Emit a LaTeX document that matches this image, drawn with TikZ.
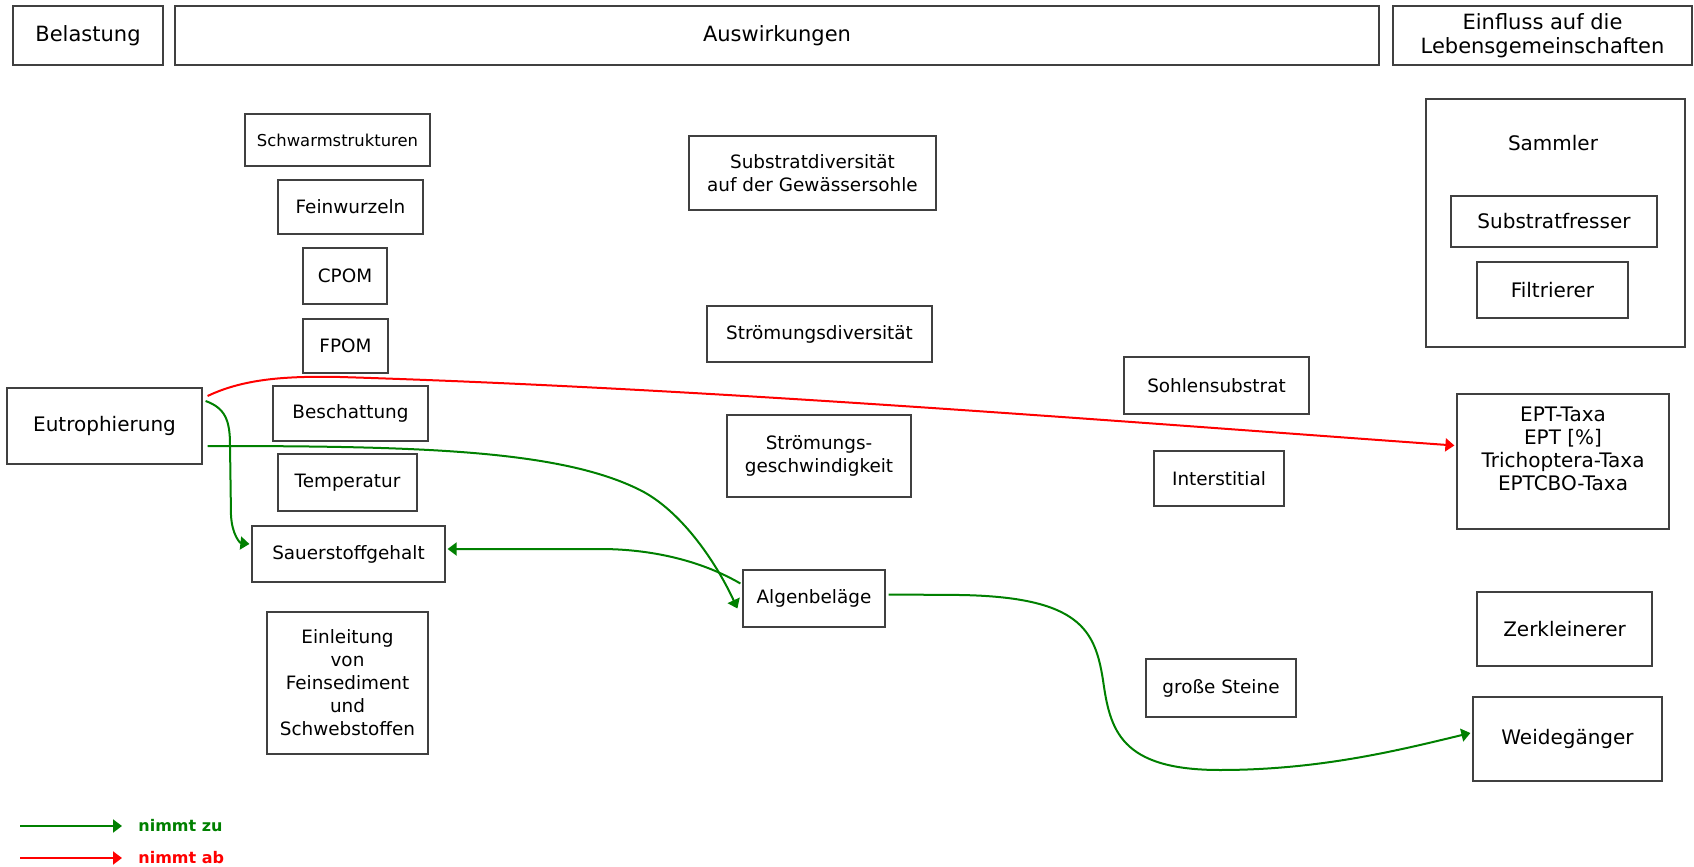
\documentclass[tikz,border=0pt]{standalone}
\usepackage{fontspec}
\setmainfont{DejaVu Sans}
\usetikzlibrary{arrows.meta}
\definecolor{zugruen}{RGB}{0,128,0}
\definecolor{abrot}{RGB}{255,0,0}
\begin{document}
\begin{tikzpicture}[x=0.5pt, y=-0.5pt,
   box/.style = {draw=black!75, line width=0.6pt, inner sep=0pt, align=center},
   sz/.style 2 args = {minimum width=#1*0.5pt, minimum height=#2*0.5pt},
   head/.style = {box, font=\fontsize{10.5}{12}\selectfont},
   mid/.style = {box, font=\fontsize{9.2}{11.5}\selectfont},
   taxa/.style = {box, font=\fontsize{10}{11.4}\selectfont},
   zu/.style = {draw=zugruen, line width=1pt, -{Triangle[length=4.5pt,width=6.5pt]}},
   ab/.style = {draw=abrot, line width=1pt, -{Triangle[length=4.5pt,width=6.5pt]}},
   legtext/.style = {font=\fontsize{8}{9.6}\selectfont\bfseries, anchor=west, inner xsep=8pt, inner ysep=1pt}]
   \useasboundingbox (0,0) rectangle (1694,867);

   \node[head, sz={150}{59}] (belastung) at (88,35.5) {Belastung};
   \node[head, sz={1204}{59}] (auswirkungen) at (777,35.5) {Auswirkungen};
   \node[head, sz={299}{59}] (einfluss) at (1542.5,35.5) {Einfluss auf die\\Lebensgemeinschaften};

   \node[taxa, sz={195}{76}] (eutro) at (104.5,426) {Eutrophierung};

   \node[mid, sz={185}{52}, font=\fontsize{8.2}{10}\selectfont] (schwarm) at (337.5,140) {Schwarmstrukturen};
   \node[mid, sz={145}{54}] (feinwurzeln) at (350.5,207) {Feinwurzeln};
   \node[mid, sz={84}{56}] (cpom) at (345,276) {CPOM};
   \node[mid, sz={85}{54}] (fpom) at (345.5,346) {FPOM};
   \node[mid, sz={155}{55}] (beschattung) at (350.5,413.5) {Beschattung};
   \node[mid, sz={139}{57}] (temperatur) at (347.5,482.5) {Temperatur};
   \node[mid, sz={193}{56}] (sauerstoff) at (348.5,554) {Sauerstoffgehalt};
   \node[mid, sz={161}{142}] (einleitung) at (347.5,683) {Einleitung\\von\\Feinsediment\\und\\Schwebstoffen};

   \node[mid, sz={247}{74}] (substratdiv) at (812.5,173) {Substratdiversität\\auf der Gewässersohle};
   \node[mid, sz={225}{56}] (stroemdiv) at (819.5,334) {Strömungsdiversität};
   \node[mid, sz={184}{82}] (stroemgeschw) at (819,456) {Strömungs-\\geschwindigkeit};
   \node[mid, sz={142}{57}] (algen) at (814,598.5) {Algenbeläge};

   \node[mid, sz={185}{57}] (sohlen) at (1216.5,385.5) {Sohlensubstrat};
   \node[mid, sz={130}{55}] (interstitial) at (1219,478.5) {Interstitial};
   \node[mid, sz={150}{58}] (steine) at (1221,688) {große Steine};

   \node[taxa, sz={259}{248}] (sammler) at (1555.5,223) {};
   \node[font=\fontsize{10}{12}\selectfont, inner sep=0pt] (sammlertext) at (1553,143) {Sammler};
   \node[taxa, sz={206}{51}] (substratfresser) at (1554,221.5) {Substratfresser};
   \node[taxa, sz={151}{56}] (filtrierer) at (1552.5,290) {Filtrierer};
   \node[taxa, sz={212}{135}] (ept) at (1563,461.5) {EPT-Taxa\\EPT [\%]\\Trichoptera-Taxa\\EPTCBO-Taxa\\[1.5pt]};
   \node[taxa, sz={175}{74}] (zerkleinerer) at (1564.5,629) {Zerkleinerer};
   \node[taxa, sz={189}{84}] (weide) at (1567.5,739) {Weidegänger};

   \draw[ab] ([shift={(5,-30)}]eutro.east) .. controls (245,378) and (290,376) .. (340,377)
      .. controls (700,388) and (1100,420) .. ([shift={(-2,-16)}]ept.west);
   \draw[zu] ([shift={(3,-25)}]eutro.east) .. controls (225,408) and (230,420) .. (230,445) -- (231,515)
      .. controls (232,535) and (240,543) .. ([shift={(-2,-10)}]sauerstoff.west);
   \draw[zu] ([shift={(5,20)}]eutro.east) .. controls (420,446) and (560,450) .. (640,490)
      .. controls (680,510) and (715,560) .. ([shift={(-5,10)}]algen.west);
   \draw[zu] ([shift={(-2,-15)}]algen.west) .. controls (700,560) and (650,549) .. (600,549)
      -- ([shift={(2,-5)}]sauerstoff.east);
   \draw[zu] ([shift={(3,-4)}]algen.east) -- (960,595) .. controls (1080,597) and (1095,630) .. (1103,680)
      .. controls (1110,730) and (1120,770) .. (1220,770) .. controls (1320,770) and (1400,750) .. ([shift={(-2,-6)}]weide.west);

   \coordinate (zustart) at (20,826);
   \node[legtext, text=zugruen] (zutext) at (122,826) {nimmt zu};
   \draw[zu] (zustart) -- (zutext.west);
   \coordinate (abstart) at (20,858);
   \node[legtext, text=abrot] (abtext) at (122,858) {nimmt ab};
   \draw[ab] (abstart) -- (abtext.west);
\end{tikzpicture}
\end{document}
